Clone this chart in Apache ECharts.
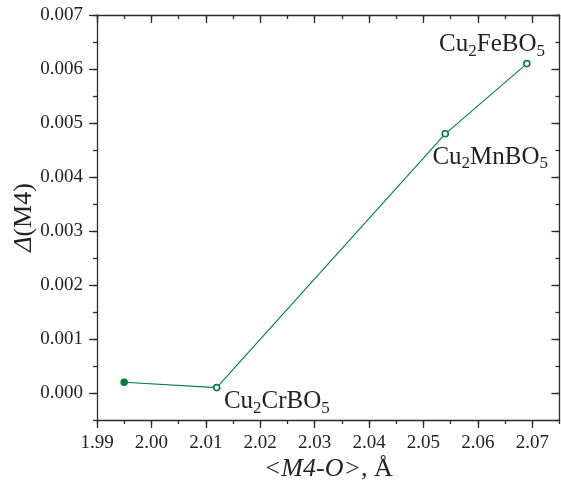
<!DOCTYPE html>
<html>
<head>
<meta charset="utf-8">
<script src="https://cdn.jsdelivr.net/npm/echarts@6/dist/echarts.min.js"></script>
<style>
  html, body { margin: 0; padding: 0; background: #fff; }
  #chart { width: 561px; height: 482px; }
</style>
</head>
<body>
<div id="chart"></div>
<script>
// <M4-O> bond length (Å) vs distortion Δ(M4)
var bondLength = [1.995, 2.012, 2.054, 2.069];
var distortion = [0.0002, 0.0001, 0.0048, 0.0061];
var compounds = ['', 'Cr', 'Mn', 'Fe'];
var xTicks = [1.99, 2.00, 2.01, 2.02, 2.03, 2.04, 2.05, 2.06, 2.07];
var yTicks = [0, 0.001, 0.002, 0.003, 0.004, 0.005, 0.006, 0.007];

var GREEN = '#00803c';
var AXIS = '#2b2b2b';
var FONT = '"Liberation Serif", "Times New Roman", serif';

// label offsets per point [dx, dy]
var labelPos = [null, [11, 18], [-9, 27], [-84, -15]];

var chart = echarts.init(document.getElementById('chart'));

var points = bondLength.map(function (x, i) {
    var item = { value: [x, distortion[i]] };
    if (i === 0) {
        item.itemStyle = { color: GREEN, borderColor: GREEN };
    }
    if (compounds[i]) {
        item.label = {
            show: true,
            position: labelPos[i],
            align: 'left',
            verticalAlign: 'middle',
            formatter: '{b|Cu}{s|2}{b|' + compounds[i] + 'BO}{s|5}'
        };
    }
    return item;
});

function axisBase(extra) {
    var a = {
        type: 'value',
        axisLine: { show: true, onZero: false, lineStyle: { color: AXIS, width: 1.3 } },
        splitLine: { show: false },
        axisLabel: { show: false },
        axisTick: { show: true, inside: false, length: 8, lineStyle: { color: AXIS, width: 1.3 } }
    };
    for (var k in extra) a[k] = extra[k];
    return a;
}

var noLine = { show: false, onZero: false };

chart.setOption({
    animation: false,
    backgroundColor: '#fff',
    grid: { left: 97, right: 1.5, top: 15, bottom: 62, outerBoundsMode: 'none', containLabel: false },
    xAxis: [
        axisBase({
            position: 'bottom', min: 1.99, max: 2.075,
            name: '{i|<M4-O>}, Å',
            nameLocation: 'middle', nameGap: 36, nameMoveOverlap: false,
            nameTextStyle: {
                color: '#222', fontFamily: FONT, fontSize: 26,
                rich: { i: { fontStyle: 'italic', fontFamily: FONT, fontSize: 26, color: '#222' } }
            },
            axisTick: { show: true, inside: false, length: 8, customValues: xTicks, lineStyle: { color: AXIS, width: 1.3 } },
            axisLabel: {
                show: true, customValues: xTicks, color: '#222', fontFamily: FONT, fontSize: 19, margin: 14,
                formatter: function (v) { return v.toFixed(2); }
            }
        }),
        // minor ticks bottom
        axisBase({
            position: 'bottom', min: 1.99, max: 2.075, interval: 0.005,
            axisLine: noLine,
            axisTick: { show: true, inside: false, length: 4, lineStyle: { color: AXIS, width: 1.3 } }
        }),
        // mirrored top
        axisBase({
            position: 'top', min: 1.99, max: 2.075,
            axisTick: { show: true, inside: true, length: 8, customValues: xTicks, lineStyle: { color: AXIS, width: 1.3 } }
        }),
        axisBase({
            position: 'top', min: 1.99, max: 2.075, interval: 0.005,
            axisLine: noLine,
            axisTick: { show: true, inside: true, length: 4, lineStyle: { color: AXIS, width: 1.3 } }
        })
    ],
    yAxis: [
        axisBase({
            position: 'left', min: -0.0005, max: 0.007,
            name: '{i|Δ}(M4)',
            nameLocation: 'middle', nameGap: 60, nameRotate: 90, nameMoveOverlap: false,
            nameTextStyle: {
                color: '#222', fontFamily: FONT, fontSize: 26,
                rich: { i: { fontStyle: 'italic', fontFamily: FONT, fontSize: 26, color: '#222' } }
            },
            axisTick: { show: true, inside: false, length: 8, customValues: yTicks, lineStyle: { color: AXIS, width: 1.3 } },
            axisLabel: {
                show: true, customValues: yTicks, color: '#222', fontFamily: FONT, fontSize: 19, margin: 14,
                formatter: function (v) { return v.toFixed(3); }
            }
        }),
        axisBase({
            position: 'left', min: -0.0005, max: 0.007, interval: 0.0005,
            axisLine: noLine,
            axisTick: { show: true, inside: false, length: 4, lineStyle: { color: AXIS, width: 1.3 } }
        }),
        axisBase({
            position: 'right', min: -0.0005, max: 0.007,
            axisTick: { show: true, inside: true, length: 8, customValues: yTicks, lineStyle: { color: AXIS, width: 1.3 } }
        }),
        axisBase({
            position: 'right', min: -0.0005, max: 0.007, interval: 0.0005,
            axisLine: noLine,
            axisTick: { show: true, inside: true, length: 4, lineStyle: { color: AXIS, width: 1.3 } }
        })
    ],
    series: [{
        type: 'line',
        xAxisIndex: 0,
        yAxisIndex: 0,
        data: points,
        symbol: 'circle',
        symbolSize: 6,
        lineStyle: { color: GREEN, width: 1.1 },
        itemStyle: { color: '#fff', borderColor: GREEN, borderWidth: 1.6 },
        label: {
            color: '#222',
            fontFamily: FONT,
            rich: {
                b: { fontFamily: FONT, fontSize: 25, lineHeight: 28, color: '#222' },
                s: { fontFamily: FONT, fontSize: 17, lineHeight: 17, padding: [14, 0, 0, 0], color: '#222' }
            }
        },
        emphasis: { disabled: true }
    }]
});
</script>
</body>
</html>
